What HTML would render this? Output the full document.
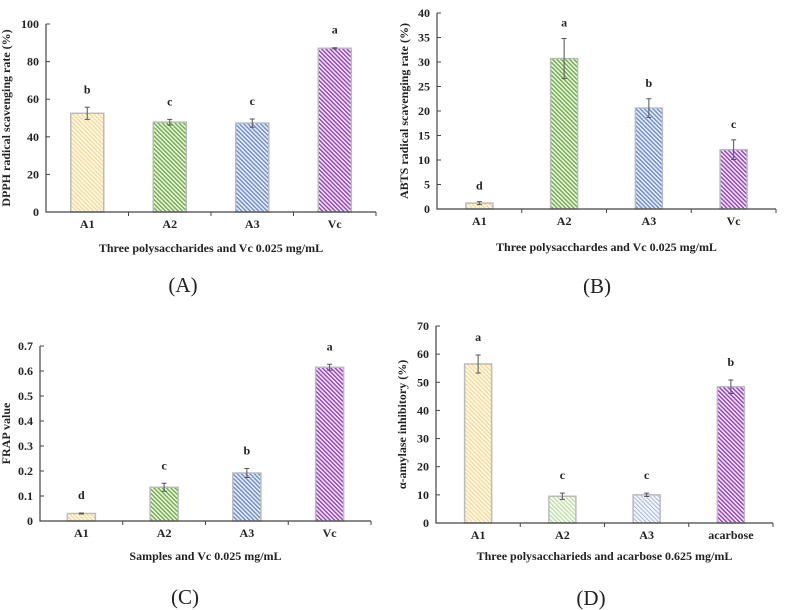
<!DOCTYPE html>
<html><head><meta charset="utf-8">
<style>
body{margin:0;background:#fff;}
svg{display:block;font-family:"Liberation Serif",serif;}
.t{font-weight:bold;font-size:12px;fill:#222;}
.lab{font-size:21px;fill:#222;}
</style></head>
<body>
<svg id="fig" width="789" height="610" viewBox="0 0 789 610" xmlns="http://www.w3.org/2000/svg">
<defs>
<pattern id="pY" width="3" height="3" patternUnits="userSpaceOnUse" patternTransform="rotate(-45)"><rect width="3" height="3" fill="#fffaf0"/><rect width="1.5" height="3" fill="#f7dc9a"/></pattern>
<pattern id="pG" width="3" height="3" patternUnits="userSpaceOnUse" patternTransform="rotate(-45)"><rect width="3" height="3" fill="#eef6e6"/><rect width="1.5" height="3" fill="#74b04e"/></pattern>
<pattern id="pB" width="3" height="3" patternUnits="userSpaceOnUse" patternTransform="rotate(-45)"><rect width="3" height="3" fill="#eef1fb"/><rect width="1.5" height="3" fill="#6f8fd6"/></pattern>
<pattern id="pP" width="3" height="3" patternUnits="userSpaceOnUse" patternTransform="rotate(-45)"><rect width="3" height="3" fill="#f4eafb"/><rect width="1.5" height="3" fill="#9646c6"/></pattern>
<pattern id="pGl" width="3" height="3" patternUnits="userSpaceOnUse" patternTransform="rotate(-45)"><rect width="3" height="3" fill="#fbfdf8"/><rect width="1.2" height="3" fill="#b7dc9c"/></pattern>
<pattern id="pBl" width="3" height="3" patternUnits="userSpaceOnUse" patternTransform="rotate(-45)"><rect width="3" height="3" fill="#fafbff"/><rect width="1.2" height="3" fill="#a9bbea"/></pattern>
</defs>
</svg>
<script>
// Panel A
const catsA=["A1","A2","A3","Vc"];
const valsA=[52.5,47.8,47.3,87.1];
const errA=[3.2,1.5,2.2,0.3];
const letA=["b","c","c","a"];
const ticksA=[0,20,40,60,80,100];
// Panel B
const catsB=["A1","A2","A3","Vc"];
const valsB=[1.2,30.7,20.6,12.1];
const errB=[0.3,4.1,1.9,2.0];
const letB=["d","a","b","c"];
const ticksB=[0,5,10,15,20,25,30,35,40];
// Panel C
const catsC=["A1","A2","A3","Vc"];
const valsC=[0.03,0.135,0.192,0.615];
const errC=[0.002,0.016,0.018,0.012];
const letC=["d","c","b","a"];
const ticksC=[0,0.1,0.2,0.3,0.4,0.5,0.6,0.7];
// Panel D
const catsD=["A1","A2","A3","acarbose"];
const valsD=[56.5,9.5,10.0,48.4];
const errD=[3.2,1.1,0.6,2.4];
const letD=["a","c","c","b"];
const ticksD=[0,10,20,30,40,50,60,70];

const NS="http://www.w3.org/2000/svg";
const svg=document.getElementById('fig');
function mk(tag,attrs,parent,text){const e=document.createElementNS(NS,tag);for(const k in attrs)e.setAttribute(k,attrs[k]);if(text!==undefined)e.textContent=text;(parent||svg).appendChild(e);return e;}

function panel(id,cfg,cats,vals,errs,lets,ticks){
  const g=mk('g',{});
  
  
  const max=ticks[ticks.length-1];
  const y=v=>cfg.y0-(v/max)*(cfg.y0-cfg.yTop);
  const step=(cfg.x1-cfg.x0)/cats.length;
  const xc=i=>cfg.x0+step*(i+0.5);
  cats.forEach((c,i)=>{
    const r=mk('rect',{x:xc(i)-cfg.bw/2,y:y(vals[i]),width:cfg.bw,height:cfg.y0-y(vals[i]),fill:'url(#'+cfg.pats[i]+')',stroke:'#bbb','stroke-width':1.5},g);
    
    
    const e1=y(vals[i]+errs[i]),e2=y(vals[i]-errs[i]);
    const eb=mk('path',{d:`M${xc(i)},${e1}V${e2}M${xc(i)-2.5},${e1}H${xc(i)+2.5}M${xc(i)-2.5},${e2}H${xc(i)+2.5}`,stroke:'#555','stroke-width':1,fill:'none'},g);
    
    
    const lt=mk('text',{x:xc(i),y:e1-cfg.lg,'text-anchor':'middle',class:'t','font-size':'13px'},g,lets[i]);
    
    
    const tl=mk('text',{x:xc(i),y:cfg.y0+16,'text-anchor':'middle',class:'t'},g,c);
    
    
  });
  const ax=mk('path',{d:`M${cfg.x0},${cfg.yTop}V${cfg.y0}H${cfg.x1}`,stroke:'#444','stroke-width':1.2,fill:'none'},g);
  
  
  for(let i=1;i<=cats.length;i++){mk('path',{d:`M${cfg.x0+step*i},${cfg.y0}V${cfg.y0+4}`,stroke:'#444'},g);}
  ticks.forEach(t=>{
    mk('path',{d:`M${cfg.x0},${y(t)}H${cfg.x0+4}`,stroke:'#444'},g);
    const tt=mk('text',{x:cfg.x0-7,y:y(t)+4,'text-anchor':'end',class:'t'},g,String(t));
    
    
  });
  const yt=mk('text',{x:0,y:0,transform:`translate(${cfg.yLabX},${(cfg.y0+cfg.yTop)/2}) rotate(-90)`,'text-anchor':'middle',class:'t','font-size':'11px'},g,cfg.ylab);
  
  
  const xt=mk('text',{x:(cfg.x0+cfg.x1)/2,y:cfg.xTitY,'text-anchor':'middle',class:'t','font-size':'11.5px'},g,cfg.xlab);
  
  
  const pl=mk('text',{x:cfg.plX,y:cfg.plY,'text-anchor':'middle',class:'lab'},g,cfg.pl);
  
  
}
panel('a',{x0:46,x1:376,y0:212,yTop:24,bw:33,lg:14,pats:['pY','pG','pB','pP'],ylab:'DPPH radical scavenging rate (%)',yLabX:10,xlab:'Three polysaccharides and Vc 0.025 mg/mL',xTitY:252,pl:'(A)',plX:183,plY:292},catsA,valsA,errA,letA,ticksA);
panel('b',{x0:437,x1:776,y0:209,yTop:13,bw:27,lg:12,pats:['pY','pG','pB','pP'],ylab:'ABTS radical scavenging rate (%)',yLabX:408,xlab:'Three polysacchardes and Vc 0.025 mg/mL',xTitY:251,pl:'(B)',plX:597,plY:293},catsB,valsB,errB,letB,ticksB);
panel('c',{x0:40,x1:371,y0:521,yTop:346,bw:28,lg:14,pats:['pY','pG','pB','pP'],ylab:'FRAP value',yLabX:10,xlab:'Samples and Vc 0.025 mg/mL',xTitY:560,pl:'(C)',plX:185,plY:604},catsC,valsC,errC,letC,ticksC);
panel('d',{x0:436,x1:773,y0:523,yTop:326,bw:27,lg:14,pats:['pY','pGl','pBl','pP'],ylab:'α-amylase inhibitory (%)',yLabX:406,xlab:'Three polysaccharieds and acarbose 0.625 mg/mL',xTitY:560,pl:'(D)',plX:591,plY:605},catsD,valsD,errD,letD,ticksD);
</script>
</body></html>
